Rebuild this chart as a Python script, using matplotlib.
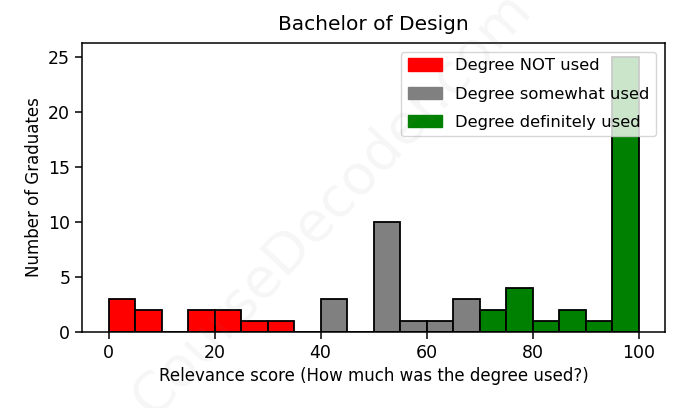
import numpy as np
import matplotlib
matplotlib.use('Agg')
import matplotlib.pyplot as plt
from matplotlib.patches import Patch

# Histogram counts per 5-point bin of relevance score
bin_edges = list(range(0, 105, 5))
counts = [3, 2, 0, 2, 2, 1, 1, 0, 3, 0, 10, 1, 1, 3, 2, 4, 1, 2, 1, 25]

categories = ['Degree NOT used', 'Degree somewhat used', 'Degree definitely used']
category_colors = ['red', 'gray', 'green']
# category boundaries on the score scale
category_limits = [0, 35, 70, 100]

fig, ax = plt.subplots(figsize=(6.78, 4.08), dpi=100)

# Draw each bin colored by its category
left = np.array(bin_edges[:-1])
for i, (lo, hi) in enumerate(zip(category_limits[:-1], category_limits[1:])):
    mask = (left >= lo) & (left < hi)
    ax.bar(left[mask], np.array(counts)[mask], width=5, align='edge',
           color=category_colors[i], edgecolor='black', linewidth=1.3)

ax.set_title('Bachelor of Design', fontsize=14.5, pad=9)
ax.set_xlabel('Relevance score (How much was the degree used?)', fontsize=12)
ax.set_ylabel('Number of Graduates', fontsize=12)
ax.tick_params(labelsize=12.5, width=1.1, length=5)
for s in ax.spines.values():
    s.set_linewidth(1.1)
ax.set_xticks([0, 20, 40, 60, 80, 100])
ax.set_yticks([0, 5, 10, 15, 20, 25])

handles = [Patch(color=c) for c in category_colors]
ax.legend(handles, categories, loc='upper right', fontsize=11.8,
          labelspacing=0.8, handlelength=2.1, handleheight=0.8,
          borderaxespad=0.55)

# Watermark
fig.text(0.49, 0.5, 'CourseDecoder.com', fontsize=40, color='gray', alpha=0.07,
         rotation=47, ha='center', va='center')

fig.subplots_adjust(left=0.121, right=0.981, top=0.895, bottom=0.186)
fig.savefig('out.png', dpi=100)
